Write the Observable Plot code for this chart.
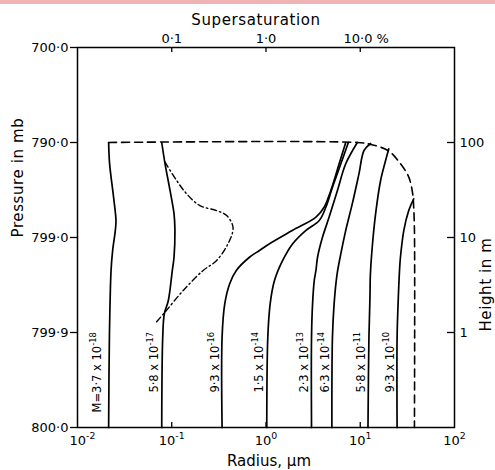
<!DOCTYPE html>
<html><head><meta charset="utf-8">
<script src="https://cdn.jsdelivr.net/npm/d3@7"></script>
<script src="https://cdn.jsdelivr.net/npm/@observablehq/plot@0.6"></script>
<style>
body{margin:0;background:#fff;}
#strip{position:absolute;left:0;top:0;width:495px;height:4px;background:#efb3b3;}
</style></head><body>
<div id="strip"></div>
<div id="chart"></div>
<script>
// ---- data (radius in µm, height in m) ----
const massLabels = ["M=3·7 x 10⁻¹⁸","5·8 x 10⁻¹⁷","9·3 x 10⁻¹⁶","1·5 x 10⁻¹⁴","2·3 x 10⁻¹³","6·3 x 10⁻¹⁴","5·8 x 10⁻¹¹","9·3 x 10⁻¹⁰"];

const r1 = [0.0214,0.0219,0.0242,0.0256,0.0252,0.0236,0.0227,0.0218,0.0214];
const h1 = [100,60,26,15.1,11.9,7.3,4.5,0.89,0.1];
const r2 = [0.0783,0.0849,0.0959,0.1057,0.1081,0.1057,0.1014,0.0920,0.0834,0.0802,0.0783];
const h2 = [100,59.7,31.3,17.8,11.9,6.2,4.5,2.17,1.57,0.89,0.1];
const r3 = [7.015,5.970,4.875,4.140,3.388,1.919,1.089,0.853,0.668,0.484,0.412,0.365,0.342,0.342];
const h3 = [100,59.7,31.3,20.8,16.4,11.9,8.6,7.3,6.2,4.5,3.26,2.0,0.89,0.1];
const r4 = [7.482,6.223,5.070,4.315,3.673,2.655,1.919,1.503,1.230,1.107,1.045,1.019];
const h4 = [100,59.7,33.8,20.8,15.1,11.9,8.6,5.73,3.52,2.0,0.89,0.1];
const r5 = [9.311,7.015,5.728,4.677,3.981,3.524,3.388,3.251,3.119,3.041,3.041];
const h5 = [100,59.7,31.3,16.4,10.1,6.2,4.5,3.52,2.0,0.89,0.1];
const r6 = [12.88,10.96,9.70,8.24,7.015,6.22,5.65,5.28,5.07,5.0];
const h6 = [97.7,82.4,47.0,22.7,11.9,6.73,3.98,2.0,0.89,0.1];
const r7 = [20.09,18.58,16.44,14.55,13.40,12.80,12.68,12.36,12.08];
const h7 = [85.9,64.6,39.8,17.7,7.9,4.0,2.36,0.89,0.1];
const r8 = [36.9,32.7,29.0,26.7,26.1,25.2,24.6,24.6];
const h8 = [25.5,19.2,11.9,6.2,4.5,2.0,0.89,0.1];

// dashed envelope
const rDash = [0.0214,9.23,12.88,20.09,26.73,32.73,36.06,36.9,37.58,37.58];
const hDash = [100,100,95.5,81.3,59.7,43.2,28.6,20.7,11.9,0.1];
// dash-dot supersaturation profile
const rDot = [0.0849,0.1127,0.1439,0.1986,0.2979,0.3802,0.4467,0.3954,0.2979,0.2153,0.1324,0.0849,0.0665];
const hDot = [62.1,39.8,28.8,21.7,19.2,17.1,12.8,8.6,5.7,4.5,2.77,1.64,1.24];

// axes
const heightTicks = [1000,100,10,1,0.1];
const pressureLabels = ["700·0","790·0","799·0","799·9","800·0"];
const rightTicks = [100,10,1];
const rightLabels = ["100","10","1"];
const radiusTicks = [0.01,0.1,1,10,100];
const radiusLabels = ["10⁻²","10⁻¹","10⁰","10¹","10²"];
const supersatTicks = [0.1,1,10];
const supersatLabels = ["0·1","1·0","10·0 %"];

// ---- build tables ----
const rs = [r1,r2,r3,r4,r5,r6,r7,r8], hs = [h1,h2,h3,h4,h5,h6,h7,h8];
const curves = rs.flatMap((r,i)=> r.map((v,j)=>({id:i, r:v, h:hs[i][j]})));
const dash = rDash.map((v,j)=>({r:v,h:hDash[j]}));
const dot = rDot.map((v,j)=>({r:v,h:hDot[j]}));
const labelRows = rs.map((r,i)=>({label:massLabels[i], r:r[r.length-1], h: i===0?0.144:0.233}));

const font = "DejaVu Sans, sans-serif";
const titleStyle = {fontSize:15, lineAnchor:"middle"};
const chart = Plot.plot({
  width:495, height:470,
  marginLeft:77, marginRight:41, marginTop:47, marginBottom:43,
  style:{fontFamily:font, fontSize:"13px", color:"black", background:"white", overflow:"visible"},
  x:{type:"log", domain:[0.01,100]},
  y:{type:"log", domain:[0.1,1000]},
  marks:[
    Plot.frame({strokeWidth:1.5}),
    // left pressure axis
    Plot.axisY({anchor:"left", ticks:heightTicks, tickFormat:d=>pressureLabels[heightTicks.indexOf(d)], tickSize:7, tickPadding:2, label:null, strokeWidth:1.3}),
    // right height axis
    Plot.axisY({anchor:"right", ticks:rightTicks, tickFormat:d=>rightLabels[rightTicks.indexOf(d)], tickSize:0, tickPadding:5, label:null}),
    Plot.gridY(rightTicks, {stroke:"black", strokeOpacity:1, strokeWidth:1.3, insetLeft:370}),
    // bottom radius axis
    Plot.axisX({anchor:"bottom", ticks:radiusTicks.slice(1), tickFormat:d=>radiusLabels[radiusTicks.indexOf(d)], tickSize:0, tickPadding:8, label:null, fontSize:13}),
    Plot.axisX({anchor:"bottom", ticks:radiusTicks.slice(0,1), tickFormat:d=>radiusLabels[radiusTicks.indexOf(d)], tickSize:0, tickPadding:8, label:null, fontSize:13, dx:5}),
    Plot.gridX([0.1,1,10], {stroke:"black", strokeOpacity:1, strokeWidth:1.3, insetTop:375}),
    // top supersaturation axis
    Plot.axisX({anchor:"top", ticks:supersatTicks.slice(0,2), tickFormat:d=>supersatLabels[supersatTicks.indexOf(d)], tickSize:0, tickPadding:5, label:null}),
    Plot.axisX({anchor:"top", ticks:supersatTicks.slice(2), tickFormat:d=>supersatLabels[supersatTicks.indexOf(d)], tickSize:0, tickPadding:5, label:null, dx:6}),
    Plot.gridX(supersatTicks, {stroke:"black", strokeOpacity:1, strokeWidth:1.3, insetBottom:375}),
    // titles
    Plot.text(["Supersaturation"], {text:d=>d, frameAnchor:"top", dy:-27, dx:-10, ...titleStyle}),
    Plot.text(["Radius, µm"], {text:d=>d, frameAnchor:"bottom", dy:34, dx:3, ...titleStyle}),
    Plot.text(["Pressure in mb"], {text:d=>d, frameAnchor:"left", dx:-59, rotate:-90, ...titleStyle}),
    Plot.text(["Height in m"], {text:d=>d, frameAnchor:"right", dx:32, rotate:-90, ...titleStyle}),
    // curves
    Plot.line(curves, {x:"r", y:"h", z:"id", curve:"catmull-rom", stroke:"black", strokeWidth:1.7}),
    Plot.line(dash, {x:"r", y:"h", curve:"catmull-rom", stroke:"black", strokeWidth:1.6, strokeDasharray:"8,5"}),
    Plot.line(dot, {x:"r", y:"h", curve:"catmull-rom", stroke:"black", strokeWidth:1.4, strokeDasharray:"6,3,1.5,3"}),
    // mass labels
    Plot.text(labelRows.slice(0,1), {x:"r", y:"h", text:"label", rotate:-90, textAnchor:"start", fontSize:11.5, dx:-11}),
    Plot.text(labelRows.slice(1), {x:"r", y:"h", text:"label", rotate:-90, textAnchor:"start", fontSize:11.5, dx:-7})
  ]
});

// typeset trailing superscripts as raised tspans (still real text)
const supMap = {"⁻":"-","⁰":"0","¹":"1","²":"2","³":"3","⁴":"4","⁵":"5","⁶":"6","⁷":"7","⁸":"8","⁹":"9"};
chart.querySelectorAll("text").forEach(t => {
  if (t.querySelector("tspan")) return;
  const m = t.textContent.match(/^(.*?)([⁻⁰¹²³⁴⁵⁶⁷⁸⁹]+)$/);
  if (!m) return;
  t.textContent = m[1];
  const ts = document.createElementNS("http://www.w3.org/2000/svg","tspan");
  ts.setAttribute("dy","-0.6em");
  ts.setAttribute("font-size","0.72em");
  ts.textContent = [...m[2]].map(c=>supMap[c]).join("");
  t.appendChild(ts);
});
chart.querySelectorAll("text").forEach(t => {
  const s = t.textContent;
  if (s === "Pressure in mb" || s === "Height in m" || s === "Supersaturation") t.setAttribute("letter-spacing","0.6");
});
document.getElementById("chart").appendChild(chart);
</script></body></html>
